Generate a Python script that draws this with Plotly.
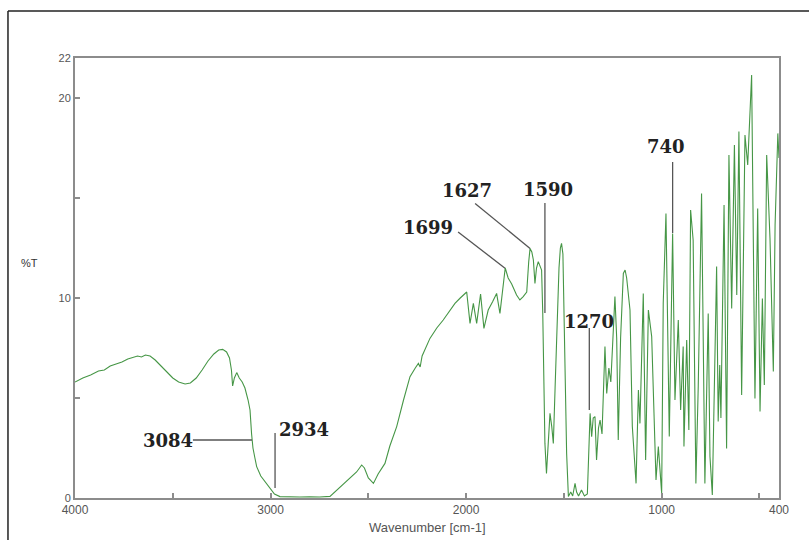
import plotly.graph_objects as go

# Wavenumber (cm-1) and %T
wavenumber = [
    4000, 3960, 3920, 3880, 3850, 3820, 3790, 3760, 3730, 3700, 3680, 3660, 3640, 3616,
    3590, 3560, 3530, 3500, 3470, 3437, 3410, 3380, 3350, 3320, 3290, 3265, 3245, 3225,
    3210, 3200, 3194, 3185, 3173, 3160, 3145, 3131, 3115, 3105, 3097, 3090, 3080, 3071,
    3050, 3020, 3000, 2980, 2952, 2900, 2850, 2800, 2750, 2696, 2650, 2600, 2560, 2534,
    2520, 2500, 2474, 2450, 2430, 2415, 2390, 2355, 2320, 2287, 2260, 2244, 2235, 2225,
    2185, 2150, 2117, 2090, 2057, 2030, 1997, 1980, 1963, 1946, 1935, 1926, 1909, 1900,
    1887, 1864, 1844, 1827, 1810, 1800, 1785, 1767, 1742, 1725, 1708, 1690, 1680, 1673,
    1664, 1656, 1648, 1640, 1631, 1622, 1614, 1608, 1600, 1597, 1589, 1580, 1571, 1562,
    1554, 1545, 1535, 1525, 1518, 1512, 1505, 1498, 1494, 1486, 1477, 1465, 1455, 1443,
    1435, 1425, 1410, 1395, 1380, 1372, 1366, 1358, 1350, 1341, 1333, 1323, 1315, 1305,
    1290, 1281, 1270, 1260, 1239, 1230, 1222, 1210, 1196, 1187, 1179, 1162, 1150, 1131,
    1119, 1111, 1094, 1082, 1068, 1051, 1045, 1029, 1017, 1000, 992, 978, 961, 944,
    932, 915, 903, 890, 886, 872, 861, 852, 839, 825, 813, 796, 779, 762,
    753, 741, 719, 711, 703, 697, 681, 668, 656, 642, 628, 616, 605, 591,
    574, 560, 540, 523, 509, 497, 485, 475, 463, 446, 429, 420, 406, 400,
]
transmittance = [
    5.8, 6.0, 6.15, 6.35, 6.4, 6.6, 6.7, 6.8, 6.95, 7.05, 7.1, 7.05, 7.15, 7.1,
    6.9, 6.6, 6.3, 6.0, 5.8, 5.7, 5.75, 6.0, 6.4, 6.85, 7.2, 7.4, 7.43, 7.3,
    7.0, 6.4, 5.6, 6.0, 6.27, 6.0, 5.8, 5.5, 4.9, 4.4, 3.2, 2.5, 2.0, 1.57,
    1.1, 0.73, 0.45, 0.2, 0.07, 0.05, 0.05, 0.06, 0.05, 0.08, 0.5, 0.95, 1.3, 1.65,
    1.5, 1.0, 0.73, 1.2, 1.5, 1.73, 2.6, 3.57, 4.9, 6.07, 6.5, 6.73, 6.55, 7.1,
    7.98, 8.5, 8.9, 9.3, 9.73, 10.0, 10.3, 8.73, 9.73, 8.73, 9.5, 10.2, 8.48, 8.9,
    9.4, 9.82, 10.23, 9.23, 10.73, 11.5, 11.0, 10.7, 10.15, 9.9, 10.07, 10.3, 11.8, 12.48,
    12.3, 11.9, 10.73, 11.5, 11.82, 11.6, 11.4, 9.2, 5.0, 2.73, 1.23, 3.0, 4.23, 3.57,
    2.73, 5.5, 9.0, 11.5, 12.5, 12.73, 12.2, 8.0, 5.23, 2.23, 0.07, 0.3, 0.1, 0.73,
    0.3, 0.1, 0.4, 0.1, 0.2, 2.5, 4.23, 3.07, 4.0, 4.07, 1.9, 3.5, 3.9, 3.2,
    7.57, 5.23, 6.5, 5.8, 10.07, 8.0, 2.9, 8.0, 11.23, 11.4, 11.0, 9.4, 3.57, 0.73,
    5.4, 3.73, 10.23, 1.9, 9.4, 8.07, 6.0, 0.9, 2.57, 0.23, 9.73, 14.23, 3.07, 13.23,
    4.9, 8.9, 4.4, 7.57, 2.57, 7.9, 3.4, 14.4, 12.9, 0.73, 5.57, 15.23, 0.73, 9.23,
    2.07, 0.15, 11.57, 3.82, 6.65, 4.0, 14.65, 2.48, 17.15, 9.48, 17.65, 10.15, 18.32, 5.15,
    18.15, 16.65, 21.15, 4.98, 14.48, 4.32, 9.98, 5.65, 17.15, 12.98, 6.32, 13.65, 18.23, 17.0,
]

# Peak labels: text, text position (wn, %T), leader line (wn0, T0, wn1, T1), anchor
peak_labels = ["3084", "2934", "1699", "1627", "1590", "1270", "740"]
label_wn = [3524, 2967, 2057, 1995, 1581, 1372, 978]
label_t = [2.9, 3.45, 13.55, 15.4, 15.45, 8.85, 17.6]
label_anchor = ["center", "left", "right", "center", "center", "center", "center"]
leader_wn0 = [3397, 2977, 2041, 1954, 1597, 1370, 944]
leader_t0 = [2.9, 3.25, 13.3, 14.73, 14.75, 8.5, 16.8]
leader_wn1 = [3095, 2977, 1801, 1673, 1597, 1370, 944]
leader_t1 = [2.9, 0.5, 11.49, 12.48, 9.25, 4.4, 13.25]

x_tickvals = [4000, 3500, 3000, 2500, 2000, 1500, 1000, 500, 400]
x_ticktext = ["4000", "", "3000", "", "2000", "", "1000", "", "400"]
y_tickvals = [0, 5, 10, 15, 20, 22]
y_ticktext = ["0", "", "10", "", "20", "22"]

fig = go.Figure()
fig.add_trace(go.Scatter(
    x=wavenumber, y=transmittance, mode="lines",
    line=dict(color="rgb(70,150,70)", width=1.1),
    hoverinfo="skip", showlegend=False,
))

shapes = []
for a, b, c, d in zip(leader_wn0, leader_t0, leader_wn1, leader_t1):
    shapes.append(dict(type="line", xref="x", yref="y", x0=a, y0=b, x1=c, y1=d,
                       line=dict(color="#555555", width=1.3)))
# outer frame (left and top edges visible)
shapes.append(dict(type="line", xref="paper", yref="paper", x0=-0.0952, y0=1.1068,
                   x1=1.2, y1=1.1068, line=dict(color="#222222", width=1.5)))
shapes.append(dict(type="line", xref="paper", yref="paper", x0=-0.0952, y0=1.1068,
                   x1=-0.0952, y1=-0.2, line=dict(color="#222222", width=1.5)))

annotations = []
for txt, xw, yt, anc in zip(peak_labels, label_wn, label_t, label_anchor):
    annotations.append(dict(x=xw, y=yt, xref="x", yref="y", text="<b>%s</b>" % txt,
                            showarrow=False, xanchor=anc, yanchor="middle",
                            font=dict(family="DejaVu Serif", size=18, color="#222222")))
annotations.append(dict(x=-0.065, y=0.535, xref="paper", yref="paper", text="%T",
                        showarrow=False, xanchor="center", yanchor="middle",
                        font=dict(family="Liberation Sans", size=11, color="#333333")))
annotations.append(dict(x=0.5, y=-0.045, xref="paper", yref="paper", text="Wavenumber [cm-1]",
                        showarrow=False, xanchor="center", yanchor="top",
                        font=dict(family="Liberation Sans", size=13, color="#555555")))

fig.update_layout(
    width=809, height=540,
    margin=dict(l=75, r=30, t=58, b=42),
    paper_bgcolor="white", plot_bgcolor="white",
    shapes=shapes, annotations=annotations,
    xaxis=dict(range=[4000, 400], showgrid=False, zeroline=False,
               showline=True, mirror=True, linecolor="#8c8c8c", linewidth=2,
               ticks="inside", ticklen=5, tickcolor="#8c8c8c", tickwidth=1.5,
               tickvals=x_tickvals, ticktext=x_ticktext,
               tickfont=dict(family="Liberation Sans", size=12, color="#555555")),
    yaxis=dict(range=[0, 22], showgrid=False, zeroline=False,
               showline=True, mirror=True, linecolor="#8c8c8c", linewidth=2,
               ticks="inside", ticklen=5, tickcolor="#8c8c8c", tickwidth=1.5,
               tickvals=y_tickvals, ticktext=y_ticktext,
               tickfont=dict(family="Liberation Sans", size=11, color="#555555")),
)

fig.write_html("out.html")
